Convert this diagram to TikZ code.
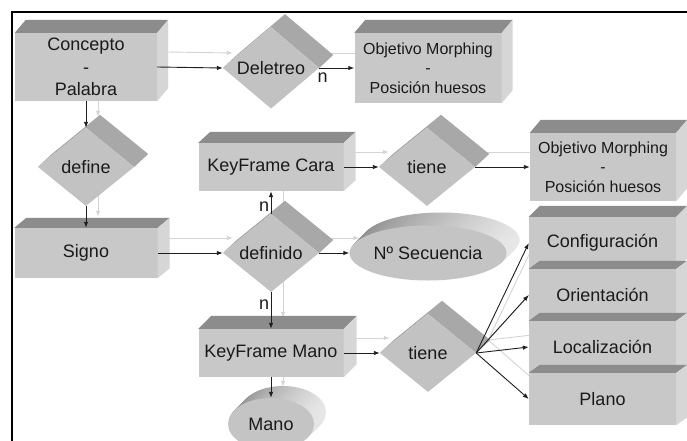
\documentclass[tikz,border=0pt]{standalone}
\usepackage{fontspec}
\setmainfont{Liberation Sans}
\usetikzlibrary{shapes.geometric,arrows.meta,calc}
\pgfdeclarelayer{back}
\pgfdeclarelayer{bg}
\pgfsetlayers{back,bg,main}
\definecolor{frontc}{HTML}{C8C8C8}
\definecolor{topc}{HTML}{8C8C8C}
\definecolor{sidec}{HTML}{D6D6D6}
\definecolor{diafront}{HTML}{C2C2C2}
\definecolor{diaband}{HTML}{A8A8A8}
\definecolor{ellfront}{HTML}{C4C4C4}
\definecolor{bandd}{HTML}{8E8E8E}
\definecolor{bandl}{HTML}{E8E8E8}
\definecolor{shadowc}{HTML}{D4D4D4}
\definecolor{linec}{HTML}{1E1E1E}
\definecolor{txtc}{HTML}{1A1A1A}
\tikzset{
  txtfont/.style={font=\fontsize{18}{22.5}\selectfont},
  objfont/.style={font=\fontsize{16}{19.5}\selectfont},
  cubebox/.style={rectangle, fill=frontc, inner sep=0pt, align=center, text=txtc, txtfont},
  diabox/.style={diamond, fill=diafront, inner sep=0pt, minimum width=96pt, minimum height=78pt, text=txtc, txtfont},
  ellbox/.style={ellipse, fill=ellfront, inner sep=0pt, text=txtc, txtfont},
  conn/.style={draw=linec, line width=0.9pt, -{Latex[length=6pt,width=4.5pt]}},
  shadowconn/.style={draw=shadowc, line width=0.9pt, -{Latex[length=6pt,width=4.5pt]}},
  topface/.style={fill=topc},
  sideface/.style={fill=sidec},
  bandface/.style={fill=diaband},
  nlabel/.style={text=txtc, font=\fontsize{18}{20}\selectfont, inner sep=1.5pt}
}
\newcommand\cubefaces[3]{%
  \fill[topface] (#1.north west) -- ++(#2,#3) -- ($(#1.north east)+(#2,#3)$) -- (#1.north east) -- cycle;
  \fill[sideface] (#1.north east) -- ++(#2,#3) -- ($(#1.south east)+(#2,#3)$) -- (#1.south east) -- cycle;}
\newcommand\diafaces[3]{%
  \fill[bandface] (#1.west) -- ($(#1.west)+(#2,#3)$) -- ($(#1.north)+(#2,#3)$) -- ($(#1.east)+(#2,#3)$) -- (#1.east) -- (#1.north) -- cycle;}
\newcommand\ellband[4]{%
  \foreach \t in {#4}{\shade[left color=bandd, right color=bandl] ($(#1)+(\t,-\t)$) ellipse [x radius=#2, y radius=#3];}}
\newcommand\linkpair[3]{%
  \begin{pgfonlayer}{bg}\draw[shadowconn] ($(#1)+(#3)$) -- ($(#2)+(#3)$);\end{pgfonlayer}
  \draw[conn] (#1) -- (#2);}
\begin{document}
\begin{tikzpicture}[x=1pt,y=-1pt]
\useasboundingbox (0,0) rectangle (687,441);
\begin{pgfonlayer}{back}\fill[white] (0,0) rectangle (687,441);\end{pgfonlayer}
\clip (0,0) rectangle (687,441);

% boxes and diamonds
\node[cubebox, minimum width=142pt, minimum height=68pt] (concepto) at (86,67) {Concepto\\-\\Palabra};
\cubefaces{concepto}{11}{-13}
\node[diabox] (deletreo) at (271,68) {Deletreo};
\diafaces{deletreo}{14}{-13}
\node[cubebox, objfont, minimum width=147pt, minimum height=70pt] (obj1) at (428,68) {Objetivo Morphing\\-\\Posición huesos};
\cubefaces{obj1}{11}{-13}

\node[diabox] (define) at (86,167) {define};
\diafaces{define}{14}{-13}
\node[cubebox, minimum width=145pt, minimum height=48pt] (kfcara) at (271,167) {KeyFrame Cara};
\cubefaces{kfcara}{12}{-11}
\node[diabox] (tiene1) at (427,167) {tiene};
\diafaces{tiene1}{14}{-13}
\node[cubebox, objfont, minimum width=146pt, minimum height=68pt] (obj2) at (603,167) {Objetivo Morphing\\-\\Posición huesos};
\cubefaces{obj2}{11}{-13}

\node[cubebox, minimum width=143pt, minimum height=50pt] (signo) at (86,253) {Signo};
\cubefaces{signo}{12}{-10}
\node[diabox] (definido) at (271,253) {definido};
\diafaces{definido}{14}{-13}
\coordinate (nseqc) at (428,253);
\ellband{nseqc}{78.5}{27.5}{13,12,11,10,9,8,7,6,5,4,3,2,1}
\node[ellbox, minimum width=157pt, minimum height=55pt] (nseq) at (nseqc) {Nº Secuencia};

\node[cubebox, minimum width=147pt, minimum height=52pt] (config) at (602.5,243) {Configuración};
\cubefaces{config}{11}{-11}
\node[cubebox, minimum width=147pt, minimum height=52pt] (orient) at (602.5,295) {Orientación};
\cubefaces{orient}{11}{-8}
\node[cubebox, minimum width=147pt, minimum height=52pt] (local) at (602.5,347) {Localización};
\cubefaces{local}{11}{-8}
\node[cubebox, minimum width=147pt, minimum height=52pt] (plano) at (602.5,399) {Plano};
\cubefaces{plano}{11}{-8}

\node[cubebox, minimum width=145pt, minimum height=48pt] (kfmano) at (271,353) {KeyFrame Mano};
\cubefaces{kfmano}{13}{-13}
\node[diabox] (tiene2) at (428,353) {tiene};
\diafaces{tiene2}{14}{-13}
\coordinate (manoc) at (271,424);
\ellband{manoc}{43}{26}{12,11,10,9,8,7,6,5,4,3,2,1}
\node[ellbox, minimum width=86pt, minimum height=52pt] (mano) at (manoc) {Mano};

% connectors
\linkpair{concepto.east}{deletreo.west}{10,-15}
\begin{pgfonlayer}{bg}\draw[shadowconn] ($(deletreo.east)+(10,-15)$) -- ($(obj1.west)+(10,-15)$);\end{pgfonlayer}
\draw[conn] (deletreo.east) -- (obj1.west) node[nlabel, pos=0.1, anchor=north, yshift=-3pt] (n1) {n};
\linkpair{concepto.south}{define.north}{12,-11}
\linkpair{define.south}{signo.north}{12,-11}
\linkpair{signo.east}{definido.west}{10,-15}
\begin{pgfonlayer}{bg}\draw[shadowconn] ($(definido.north)+(12,-11)$) -- ($(kfcara.south)+(12,-11)$);\end{pgfonlayer}
\draw[conn] (definido.north) -- (kfcara.south) node[nlabel, pos=0.3, anchor=east] (n2) {n};
\linkpair{kfcara.east}{tiene1.west}{10,-15}
\linkpair{tiene1.east}{obj2.west}{10,-15}
\linkpair{definido.east}{nseq.west}{10,-15}
\begin{pgfonlayer}{bg}\draw[shadowconn] ($(definido.south)+(12,-11)$) -- ($(kfmano.north)+(12,-11)$);\end{pgfonlayer}
\draw[conn] (definido.south) -- (kfmano.north) node[nlabel, pos=0.35, anchor=east] (n3) {n};
\linkpair{kfmano.east}{tiene2.west}{10,-15}
\linkpair{kfmano.south}{mano.north}{12,-11}
\linkpair{tiene2.east}{config.west}{12,-13}
\linkpair{tiene2.east}{orient.west}{12,-13}
\linkpair{tiene2.east}{local.west}{12,-13}
\linkpair{tiene2.east}{plano.west}{12,-13}

% frame
\draw[black, line width=2pt] (12,441) -- (12,12) -- (687,12);
\end{tikzpicture}
\end{document}
